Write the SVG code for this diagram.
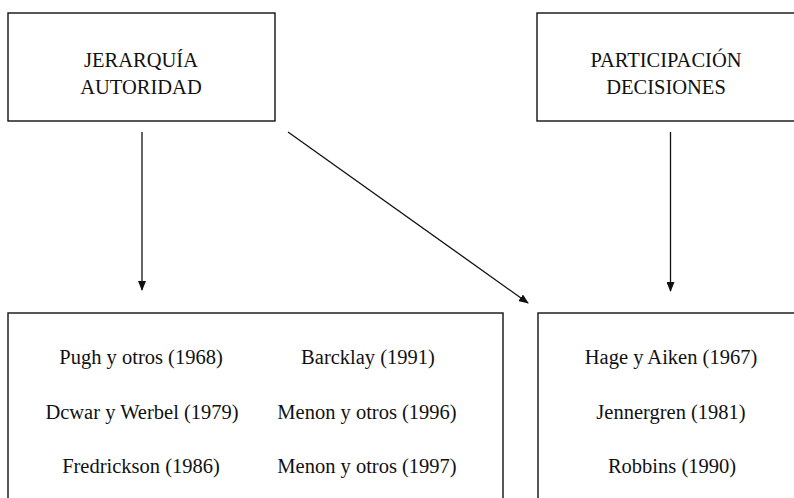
<svg xmlns="http://www.w3.org/2000/svg" width="794" height="498" viewBox="0 0 794 498">
<style>
.box{fill:#fff;stroke:#111;stroke-width:1.4}
.t{font-family:"Liberation Serif","Times New Roman",serif;font-size:20.5px;fill:#111;text-anchor:middle}
.c{stroke:#111;stroke-width:1.3;fill:none}
</style>
<defs>
<marker id="ah" markerWidth="10" markerHeight="8" refX="9" refY="4" orient="auto" markerUnits="userSpaceOnUse">
<path d="M0,0 L10,4 L0,8 Z" fill="#111"/>
</marker>
</defs>
<rect width="794" height="498" fill="#fff"/>
<g id="jerarquia">
<rect class="box" x="8" y="13" width="267" height="108"/>
<text class="t" x="141" y="67">JERARQUÍA</text>
<text class="t" x="141" y="94">AUTORIDAD</text>
</g>
<g id="participacion">
<rect class="box" x="537" y="13" width="270" height="108"/>
<text class="t" x="666" y="67">PARTICIPACIÓN</text>
<text class="t" x="666" y="94">DECISIONES</text>
</g>
<g id="autores-jerarquia">
<rect class="box" x="8" y="313" width="495" height="200"/>
<text class="t" x="141" y="364">Pugh y otros (1968)</text>
<text class="t" x="142" y="419">Dcwar y Werbel (1979)</text>
<text class="t" x="141" y="473">Fredrickson (1986)</text>
<text class="t" x="368" y="364">Barcklay (1991)</text>
<text class="t" x="367" y="419">Menon y otros (1996)</text>
<text class="t" x="367" y="473">Menon y otros (1997)</text>
</g>
<g id="autores-participacion">
<rect class="box" x="538" y="313" width="270" height="200"/>
<text class="t" x="671" y="364">Hage y Aiken (1967)</text>
<text class="t" x="671" y="419">Jennergren (1981)</text>
<text class="t" x="672" y="473">Robbins (1990)</text>
</g>
<g id="connectors">
<line class="c" x1="142" y1="132" x2="142" y2="290" marker-end="url(#ah)"/>
<line class="c" x1="288" y1="132" x2="528" y2="303" marker-end="url(#ah)"/>
<line class="c" x1="670.5" y1="132" x2="670.5" y2="291" marker-end="url(#ah)"/>
</g>
</svg>
